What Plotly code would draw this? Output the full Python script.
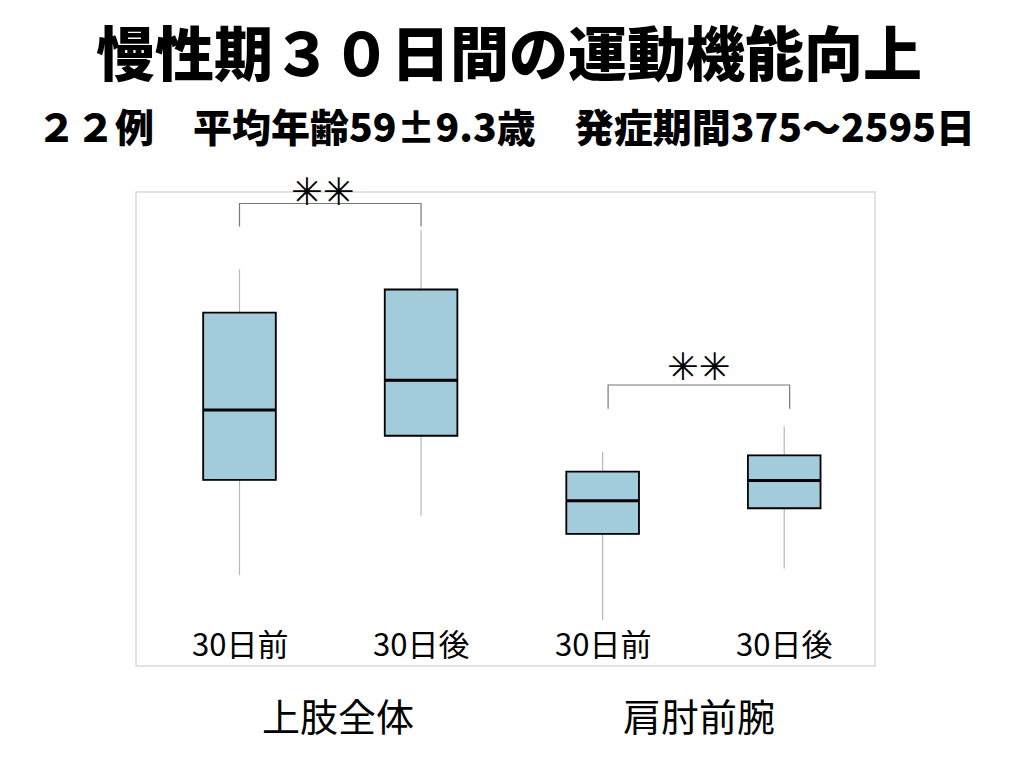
import plotly.graph_objects as go

# ---- data ----
categories = ["30日前", "30日後", "30日前", "30日後"]
groups = ["上肢全体", "肩肘前腕"]
lower = [13.4, 22.2, 6.8, 14.4]
q1 = [27.5, 34.0, 19.5, 23.3]
median = [37.8, 42.2, 24.4, 27.4]
q3 = [52.2, 55.6, 28.7, 31.1]
upper = [58.6, 64.4, 31.6, 35.4]
sig_marks = ["✳✳", "✳✳"]
title = "慢性期３０日間の運動機能向上"
subtitle = "２２例　平均年齢59±9.3歳　発症期間375〜2595日"

positions = list(range(len(categories)))
BOX_W = 0.4
FILL = "#a2cbdb"
JP = "Noto Sans CJK JP"

fig = go.Figure()
# whiskers (gray)
fig.add_trace(go.Box(
    x=positions, q1=q1, median=median, q3=q3,
    lowerfence=lower, upperfence=upper,
    width=BOX_W, whiskerwidth=0, fillcolor=FILL,
    line=dict(color="#b8b8b8", width=1.2),
    boxpoints=False, hoverinfo="skip", showlegend=False))
# boxes (black outline)
fig.add_trace(go.Box(
    x=positions, q1=q1, median=median, q3=q3,
    lowerfence=q1, upperfence=q3,
    width=BOX_W, whiskerwidth=0, fillcolor=FILL,
    line=dict(color="black", width=1.8),
    boxpoints=False, hoverinfo="skip", showlegend=False))

shapes = []
# thicker median lines
for p, m in zip(positions, median):
    shapes.append(dict(type="line", xref="x", yref="y",
                       x0=p - BOX_W / 2, x1=p + BOX_W / 2, y0=m, y1=m,
                       line=dict(color="black", width=3)))
# frame
shapes.append(dict(type="rect", xref="paper", yref="paper", x0=0, x1=1, y0=0, y1=1,
                   line=dict(color="#d9d9d9", width=1.5), layer="below"))

# significance brackets: (x0, x1, y_top, y_bottom)
brackets = [(0.0, 1.0, 68.3, 64.9), (2.03, 3.03, 41.5, 38.0)]
sig_pos = [(0.46, 70.0), (2.53, 44.2)]
for (x0, x1, yt, yb) in brackets:
    shapes.append(dict(type="path", xref="x", yref="y",
                       path=f"M {x0},{yb} L {x0},{yt} L {x1},{yt} L {x1},{yb}",
                       line=dict(color="#777777", width=1.2)))

PW, PH = 739, 474
def px_to_paper(px, py):
    return (px - 136) / PW, (666 - py) / PH

def ann(x, y, text, size, xref="paper", yref="paper", family=JP, weight="normal"):
    return dict(x=x, y=y, xref=xref, yref=yref, text=text, showarrow=False,
                xanchor="center", yanchor="middle",
                font=dict(family=family, size=size, color="black", weight=weight))

annotations = []
for (sx, sy), s in zip(sig_pos, sig_marks):
    annotations.append(ann(sx, sy, s, 38, xref="x", yref="y", family="DejaVu Sans", weight="bold"))
for p, c in zip(positions, categories):
    annotations.append(ann(p, px_to_paper(0, 642)[1], c, 31, xref="x"))
group_x = [0.54, 2.53]
for gx, g in zip(group_x, groups):
    annotations.append(ann(gx, px_to_paper(0, 714)[1], g, 38, xref="x"))
tx, ty = px_to_paper(509, 50)
annotations.append(ann(tx, ty, title, 59, weight=900))
sx_, sy_ = px_to_paper(506, 125)
annotations.append(ann(sx_, sy_, subtitle, 39, weight=900))

fig.update_layout(
    width=1024, height=768,
    margin=dict(l=136, r=149, t=192, b=102),
    paper_bgcolor="white", plot_bgcolor="white",
    boxmode="overlay",
    xaxis=dict(range=[-0.57, 3.5], visible=False, fixedrange=True),
    yaxis=dict(range=[0, 70], visible=False, fixedrange=True),
    shapes=shapes, annotations=annotations,
)

fig.write_html("out.html")
